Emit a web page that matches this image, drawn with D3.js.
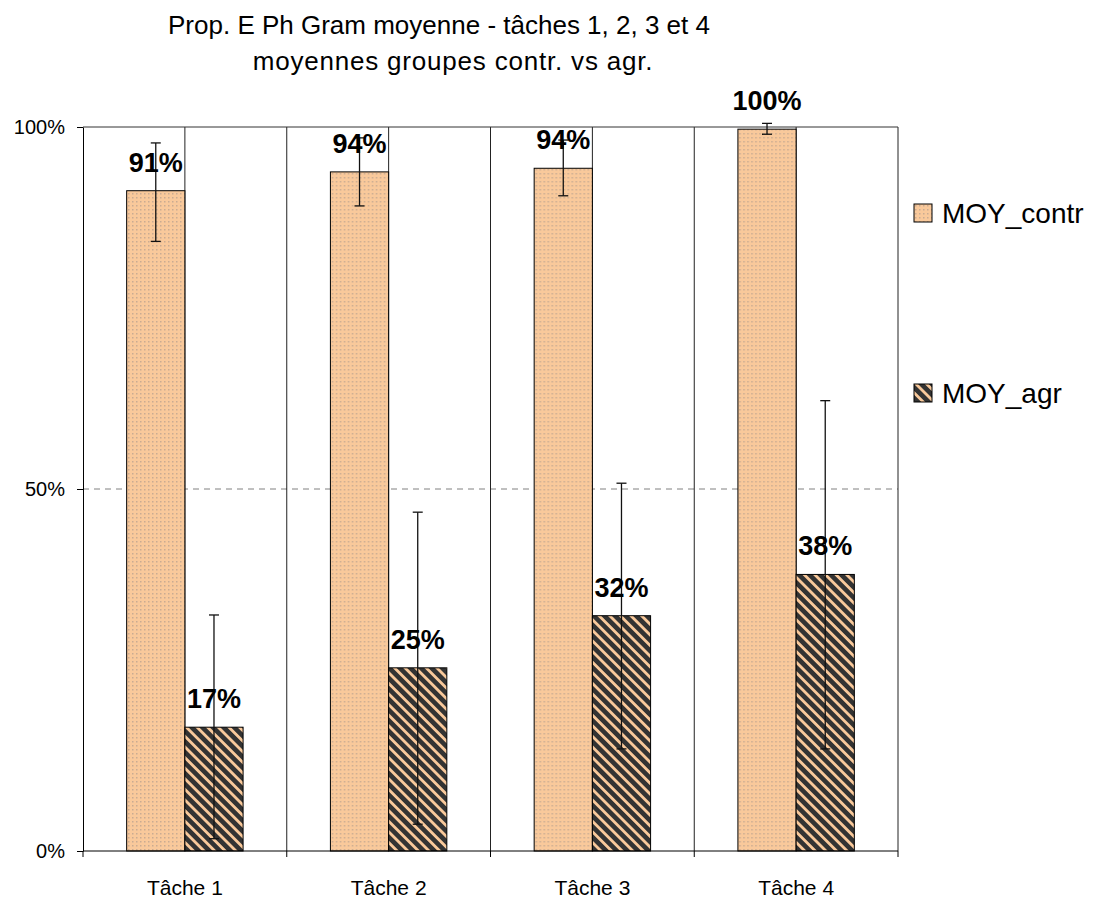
<!DOCTYPE html>
<html lang="fr">
<head>
    <meta charset="UTF-8">
    <title>Prop. E Ph Gram moyenne</title>
    <script src="https://cdn.jsdelivr.net/npm/d3@7"></script>
    <style>
        body { margin: 0; background: #fff; }
        text { font-family: "Liberation Sans", Arial, sans-serif; fill: #000; }
    </style>
</head>
<body>
<script>
    const width  = 1094;
    const height = 900;

    // data
    const categories = ["Tâche 1", "Tâche 2", "Tâche 3", "Tâche 4"];
    const series     = ["MOY_contr", "MOY_agr"];
    const contrMean  = [0.912, 0.938, 0.943, 0.997];
    const contrLow   = [0.842, 0.891, 0.905, 0.990];
    const contrHigh  = [0.978, 0.985, 0.982, 1.005];
    const agrMean    = [0.171, 0.253, 0.325, 0.382];
    const agrLow     = [0.017, 0.037, 0.141, 0.141];
    const agrHigh    = [0.326, 0.468, 0.508, 0.622];
    const labels     = [["91%", "94%", "94%", "100%"], ["17%", "25%", "32%", "38%"]];
    const yTicks     = [0, 0.5, 1];
    const title      = ["Prop. E Ph Gram moyenne - tâches 1, 2, 3 et 4",
                        "moyennes groupes contr. vs agr."];

    const plot = {left: 83, right: 898, top: 127, bottom: 851};

    const svg = d3.select("body").append("svg")
        .attr("width", width).attr("height", height);

    // patterns: dotted peach and dark diagonal stripes
    const defs = svg.append("defs");
    const dots = defs.append("pattern")
        .attr("id", "dots").attr("patternUnits", "userSpaceOnUse")
        .attr("width", 4).attr("height", 4);
    dots.append("rect").attr("width", 4).attr("height", 4).attr("fill", "#f9c99b");
    dots.append("rect").attr("x", 1).attr("y", 1).attr("width", 1.5).attr("height", 1.5)
        .attr("fill", "#c9ab92");

    const stripes = defs.append("pattern")
        .attr("id", "stripes").attr("patternUnits", "userSpaceOnUse")
        .attr("width", 7.5).attr("height", 7.5)
        .attr("patternTransform", "rotate(-45)");
    stripes.append("rect").attr("width", 7.5).attr("height", 7.5).attr("fill", "#333333");
    stripes.append("rect").attr("width", 2.8).attr("height", 7.5).attr("fill", "#f9c99b");

    const fills = ["url(#dots)", "url(#stripes)"];

    const x0 = d3.scaleBand()
        .domain(categories)
        .range([plot.left, plot.right]);

    const x1 = d3.scaleBand()
        .domain(series)
        .range([0, x0.bandwidth()])
        .paddingOuter(0.75);

    const y = d3.scaleLinear()
        .domain([0, 1])
        .range([plot.bottom, plot.top]);

    // gridlines
    svg.append("line")
        .attr("x1", plot.left).attr("x2", plot.right)
        .attr("y1", y(0.5)).attr("y2", y(0.5))
        .attr("stroke", "#808080").attr("stroke-dasharray", "6,5");

    const vLines = categories.map(c => x0(c) + x0.bandwidth() / 2)
        .concat(categories.slice(1).map(c => x0(c)), [plot.right]);
    svg.append("g").selectAll("line")
        .data(vLines)
        .join("line")
          .attr("x1", d => d).attr("x2", d => d)
          .attr("y1", plot.top).attr("y2", plot.bottom)
          .attr("stroke", "#222");

    svg.append("line")
        .attr("x1", plot.left).attr("x2", plot.right)
        .attr("y1", plot.top).attr("y2", plot.top)
        .attr("stroke", "#333");

    // bars
    const rows = categories.map((c, i) => [
        {cat: c, s: 0, v: contrMean[i], lo: contrLow[i], hi: contrHigh[i], label: labels[0][i]},
        {cat: c, s: 1, v: agrMean[i], lo: agrLow[i], hi: agrHigh[i], label: labels[1][i]}
    ]);

    const groups = svg.append("g").selectAll("g")
        .data(rows)
        .join("g")
          .attr("transform", d => `translate(${x0(d[0].cat)},0)`);

    groups.selectAll("rect")
        .data(d => d)
        .join("rect")
          .attr("x", d => x1(series[d.s]))
          .attr("y", d => y(d.v))
          .attr("width", x1.bandwidth())
          .attr("height", d => y(0) - y(d.v))
          .attr("fill", d => fills[d.s])
          .attr("stroke", "#000")
          .attr("stroke-width", 1);

    // error bars
    const err = groups.selectAll("g.err")
        .data(d => d)
        .join("g").attr("class", "err")
          .attr("stroke", "#111").attr("stroke-width", 1.3);
    const cx = d => x1(series[d.s]) + x1.bandwidth() / 2;
    err.append("line")
        .attr("x1", cx).attr("x2", cx)
        .attr("y1", d => y(d.lo)).attr("y2", d => y(d.hi));
    err.append("line")
        .attr("x1", d => cx(d) - 5).attr("x2", d => cx(d) + 5)
        .attr("y1", d => y(d.lo)).attr("y2", d => y(d.lo));
    err.append("line")
        .attr("x1", d => cx(d) - 5).attr("x2", d => cx(d) + 5)
        .attr("y1", d => y(d.hi)).attr("y2", d => y(d.hi));

    // value labels
    groups.selectAll("text")
        .data(d => d)
        .join("text")
          .attr("x", cx)
          .attr("y", d => y(d.v) - 19)
          .attr("text-anchor", "middle")
          .style("font-size", "27px")
          .style("font-weight", "bold")
          .text(d => d.label);

    // axes
    const yAxis = svg.append("g")
        .attr("transform", `translate(${plot.left},0)`)
        .call(d3.axisLeft(y).tickValues(yTicks).tickFormat(d3.format(".0%"))
              .tickSize(6).tickSizeOuter(0).tickPadding(12));
    yAxis.select(".domain").attr("stroke", "#000");
    yAxis.selectAll(".tick line").attr("stroke", "#000");
    yAxis.selectAll("text").style("font-size", "20px");

    const xAxis = svg.append("g")
        .attr("transform", `translate(0,${plot.bottom})`)
        .call(d3.axisBottom(x0).tickSize(0).tickPadding(29));
    xAxis.select(".domain").remove();
    xAxis.selectAll("text").style("font-size", "21px");

    svg.append("line")
        .attr("x1", plot.left).attr("x2", plot.right)
        .attr("y1", plot.bottom).attr("y2", plot.bottom)
        .attr("stroke", "#000");
    svg.append("g").selectAll("line")
        .data(categories.map(c => x0(c)).concat([plot.right]))
        .join("line")
          .attr("x1", d => d).attr("x2", d => d)
          .attr("y1", plot.bottom).attr("y2", plot.bottom + 6)
          .attr("stroke", "#000");

    // title
    svg.append("text")
        .attr("x", 439).attr("y", 34)
        .attr("text-anchor", "middle")
        .style("font-size", "26px")
        .text(title[0]);
    svg.append("text")
        .attr("x", 453).attr("y", 70)
        .attr("text-anchor", "middle")
        .style("font-size", "26px")
        .style("letter-spacing", "0.8px")
        .text(title[1]);

    // legend
    const legend = svg.append("g").selectAll("g")
        .data(series)
        .join("g")
          .attr("transform", (d, i) => `translate(914,${[204, 384][i]})`);
    legend.append("rect")
        .attr("width", 18).attr("height", 18)
        .attr("fill", (d, i) => fills[i])
        .attr("stroke", "#000");
    legend.append("text")
        .attr("x", 28).attr("y", 19)
        .style("font-size", "28px")
        .text(d => d);
</script>
</body>
</html>
